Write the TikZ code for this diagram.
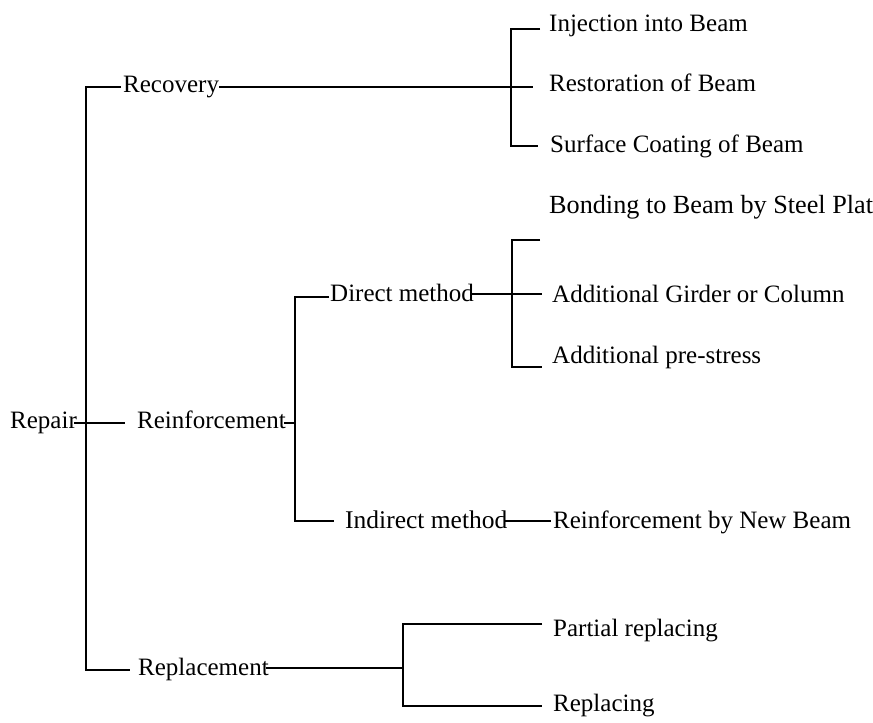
\documentclass[tikz,border=0pt]{standalone}
\usepackage{fontspec}
\setmainfont{Liberation Serif}
\begin{document}
\begin{tikzpicture}[x=1pt,y=-1pt,
  wire/.style={draw=black, line width=2pt},
  lbl/.style={anchor=base west, inner sep=0pt, font=\fontsize{25}{30}\selectfont}]
\useasboundingbox[fill=white] (0,0) rectangle (873,723);

% ---- labels ----
\node[lbl] (repair)      at (10,428)  {Repair};
\node[lbl] (recovery)    at (123,92)  {Recovery};
\node[lbl] (reinf)       at (137,428) {Reinforcement};
\node[lbl] (replacement) at (138,675) {Replacement};

\node[lbl] (inject)  at (549,31)  {Injection into Beam};
\node[lbl] (restore) at (549,91)  {Restoration of Beam};
\node[lbl] (coat)    at (550,152) {Surface Coating of Beam};

\node[lbl] (direct)   at (330,301) {Direct method};
\node[lbl,font=\fontsize{25.5}{30}\selectfont] (indirect) at (345,528) {Indirect method};

\node[lbl,font=\fontsize{26.2}{30}\selectfont] (bond) at (549,213) {Bonding to Beam by Steel Plat};
\node[lbl] (girder)  at (552,302) {Additional Girder or Column};
\node[lbl] (prestr)  at (552,363) {Additional pre-stress};
\node[lbl] (newbeam) at (553,528) {Reinforcement by New Beam};

\node[lbl] (partial) at (553,636) {Partial replacing};
\node[lbl] (replace) at (553,711) {Replacing};

% ---- junction points ----
\coordinate (sTop) at (86,87);
\coordinate (sMid) at (86,423);
\coordinate (sBot) at (86,670);

\coordinate (aTop) at (511,29);
\coordinate (aMid) at (511,87);
\coordinate (aBot) at (511,146);

\coordinate (bTop) at (295,297);
\coordinate (bMid) at (295,423);
\coordinate (bBot) at (295,521);

\coordinate (cTop) at (512,240);
\coordinate (cMid) at (512,294);
\coordinate (cBot) at (512,367);

\coordinate (dTop) at (403,624);
\coordinate (dMid) at (403,668);
\coordinate (dBot) at (403,706);

% free ends of the short stubs
\coordinate (repR)  at (125,423);
\coordinate (recL)  at (121,87);
\coordinate (repLR) at (130,670);
\coordinate (aT)    at (540,29);
\coordinate (aM)    at (533,87);
\coordinate (aB)    at (538,146);
\coordinate (cT)    at (540,240);
\coordinate (cM)    at (542,294);
\coordinate (cB)    at (542,367);
\coordinate (bT)    at (329,297);
\coordinate (bB)    at (334,521);
\coordinate (dT)    at (542,624);
\coordinate (dB)    at (542,706);
\coordinate (nW)    at (551,521);

% ---- main spine ----
\path[wire] (recL) -- (sTop) -- (sBot) -- (repLR);
\path[wire] ([xshift=-3pt]repair.east |- sMid) -- (repR);

% ---- Recovery ----
\path[wire] (recovery.east |- aMid) -- (aMid) -- (aM);
\path[wire] (aT) -- (aTop) -- (aBot) -- (aB);

% ---- Reinforcement ----
\path[wire] ([xshift=-2pt]reinf.east |- bMid) -- (bMid);
\path[wire] (bT) -- (bTop) -- (bBot) -- (bB);
\path[wire] ([xshift=-3pt]direct.east |- cMid) -- (cMid) -- (cM);
\path[wire] (cT) -- (cTop) -- (cBot) -- (cB);
\path[wire] ([xshift=-3pt]indirect.east |- nW) -- (nW);

% ---- Replacement ----
\path[wire] ([xshift=-3pt]replacement.east |- dMid) -- (dMid);
\path[wire] (dT) -- (dTop) -- (dBot) -- (dB);
\end{tikzpicture}
\end{document}
